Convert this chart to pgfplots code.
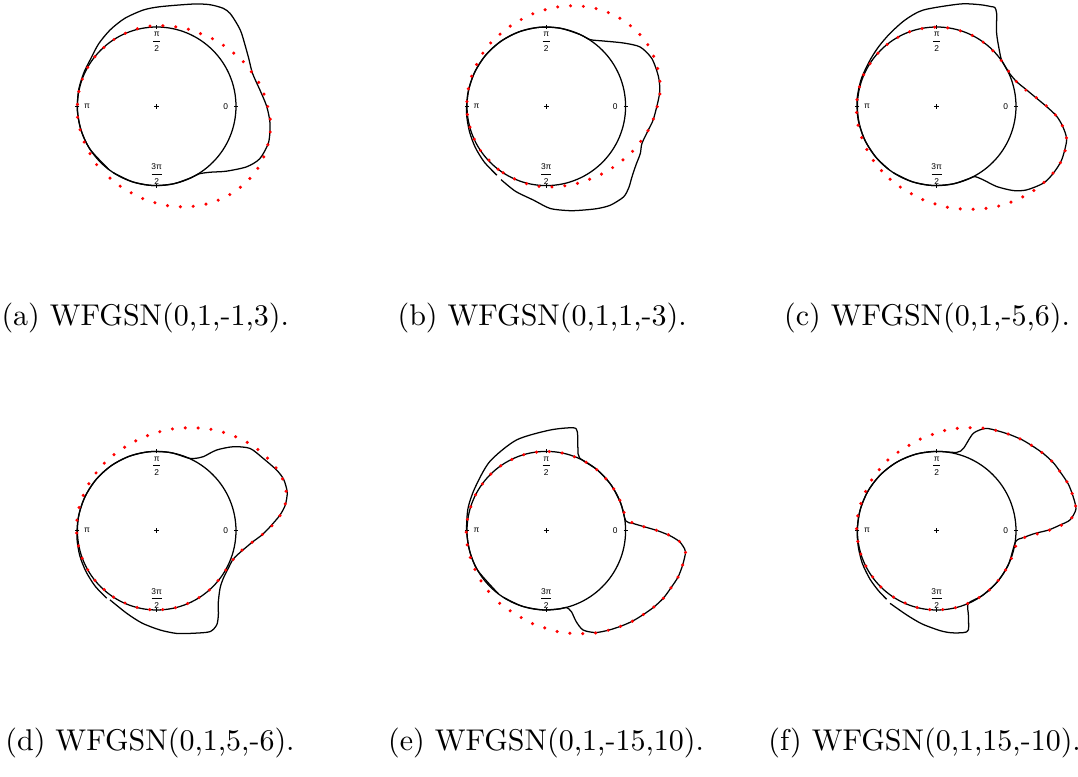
\documentclass[border=0pt]{standalone}
\usepackage{fontspec}
\setsansfont{Liberation Sans}
\usepackage{pgfplots}
\pgfplotsset{compat=1.18}
\usepgfplotslibrary{polar}
\newcommand{\lab}{\fontsize{2.8}{3.4}\selectfont\sffamily}
\pgfplotsset{panel/.style={x=26.43pt,y=26.43pt,xmin=-1.9,xmax=1.9,ymin=-1.9,ymax=1.9,hide axis,clip=false,anchor=center},
 blk/.style={black,line width=0.42pt,smooth,tension=0.45,data cs=polar,no marks},
 dots/.style={red,line width=1.15pt,line cap=round,dash pattern=on 0pt off 4.3pt,smooth,tension=0.45,data cs=polar,no marks}}
\newcommand{\decor}{%
 \draw[line width=0.42pt] (axis cs:0,0) circle[radius=26.43pt];
 \draw[line width=0.3pt] (axis cs:0.975,0)--(axis cs:1.025,0) (axis cs:-0.975,0)--(axis cs:-1.025,0)
   (axis cs:0,0.975)--(axis cs:0,1.025) (axis cs:0,-0.975)--(axis cs:0,-1.025)
   (axis cs:-0.03,0)--(axis cs:0.03,0) (axis cs:0,-0.03)--(axis cs:0,0.03);
 \node[font=\lab,inner sep=0pt] at (axis cs:0.87,0) {0};
 \node[font=\lab,inner sep=0pt] at (axis cs:-0.88,0) {π};
 \node[font=\lab,inner sep=0pt,align=center] at (axis cs:0,0.815) {π\\[-1.0pt]\rule[0.8pt]{2.4pt}{0.22pt}\\[-1.0pt]2};
 \node[font=\lab,inner sep=0pt,align=center] at (axis cs:0,-0.855) {3π\\[-1.0pt]\rule[0.8pt]{3.4pt}{0.22pt}\\[-1.0pt]2};
}
\begin{document}
\begin{tikzpicture}
\useasboundingbox (0,0) rectangle (359.33pt,258.67pt);
% (a)
\begin{axis}[panel,at={(52.23pt,223.23pt)}]
\decor
\addplot[blk] coordinates {(237,1)(252,1)(267,1)(282,1)(296,1.0)(302,1.005)(309,1.07)(317,1.2)(326,1.366)(333,1.458)(342,1.483)(351.5,1.445)(360,1.387)(369,1.318)(379,1.278)(388.5,1.314)(400.7,1.412)(406,1.453)(411.7,1.493)(415.8,1.494)(422.3,1.447)(430.3,1.37)(448,1.257)(457.9,1.226)(470,1.18)(481.4,1.128)(493,1.075)(505.2,1.023)(515,1.012)(528,1.006)(543,1.002)(558,1)(573,1)(593,1)};
\addplot[dots] coordinates {(237,1.08)(246,1.11)(254,1.14)(262,1.18)(270,1.222)(277,1.265)(284,1.307)(290.5,1.345)(297,1.383)(303.6,1.418)(310,1.447)(316.3,1.47)(322.6,1.487)(329,1.497)(335,1.493)(341.2,1.483)(347.4,1.468)(354,1.44)(360,1.40)(366.7,1.36)(373.4,1.32)(380.3,1.27)(387.5,1.227)(394.9,1.18)(402.6,1.14)(410.6,1.105)(419,1.07)(427.6,1.05)(436.6,1.03)(445.5,1.02)(454.5,1.016)(463.7,1.008)(473,1.003)(485,1)(500,1)(515,1)(530,1)(545,1.005)(556,1.01)(565.6,1.02)(574.7,1.03)(583.5,1.055)(592.3,1.07)};
\end{axis}
% (b)
\begin{axis}[panel,at={(182.1pt,223.23pt)}]
\decor
\addplot[blk] coordinates {(238.3,1.087)(250,1.14)(262.3,1.195)(272.2,1.29)(282,1.345)(288.1,1.38)(296.3,1.44)(302.9,1.486)(310.5,1.502)(315.5,1.46)(320.5,1.40)(327,1.35)(333.3,1.327)(338.7,1.294)(346.8,1.32)(353.4,1.362)(366.4,1.437)(374.6,1.463)(384.3,1.461)(392.3,1.40)(399.3,1.26)(408.7,1.096)(416.6,1.007)(425,1)(440,1)(455,1)(470,1)(485,1)(500,1)(515,1)(530,1.003)(545,1.01)(558,1.02)(570,1.035)(582,1.052)(594.4,1.07)};
\addplot[dots] coordinates {(237,1)(247,1)(256.3,1.008)(265.5,1.016)(274.5,1.02)(283.4,1.03)(292.4,1.05)(300.9,1.07)(309.4,1.105)(317.4,1.14)(325.1,1.18)(332.5,1.227)(339.7,1.27)(346.6,1.32)(353.3,1.36)(360,1.40)(366,1.44)(372.6,1.468)(378.8,1.483)(385,1.493)(391,1.497)(397.4,1.487)(403.7,1.47)(410,1.447)(416.4,1.418)(423,1.383)(429.5,1.345)(436,1.307)(443,1.265)(450,1.222)(458,1.18)(466,1.14)(474,1.11)(483,1.08)(487.7,1.07)(496.5,1.055)(505.3,1.03)(514.4,1.02)(524,1.01)(533,1.006)(545,1.002)(560,1)(575,1)(593,1)};
\end{axis}
% (c)
\begin{axis}[panel,at={(312.23pt,223.23pt)}]
\decor
\addplot[blk] coordinates {(237,1)(252,1)(267,1)(282,1)(295,1.0)(298.6,1.01)(302.4,1.1)(306.8,1.264)(312.3,1.437)(317.1,1.549)(324.2,1.658)(330.1,1.696)(336.8,1.715)(345.5,1.693)(351,1.608)(355.4,1.515)(359.8,1.387)(364.6,1.264)(370.3,1.153)(377.1,1.055)(385.8,1.003)(395.5,1.006)(402,1.062)(410.6,1.191)(417.2,1.395)(419.5,1.445)(421.1,1.435)(426.9,1.393)(437.2,1.323)(457.9,1.226)(470,1.16)(482.6,1.092)(494,1.05)(505.2,1.023)(520,1.012)(535,1.008)(550,1.005)(565,1.002)(580,1)(593,1)};
\addplot[dots] coordinates {(237.4,1.092)(245.6,1.117)(253.6,1.147)(261.5,1.19)(269,1.231)(276,1.28)(282.8,1.327)(289.3,1.375)(295.4,1.428)(301.5,1.479)(307.6,1.528)(313.3,1.575)(318.8,1.62)(324.3,1.656)(329.7,1.689)(335.1,1.714)(340.5,1.716)(346,1.689)(351,1.608)(355.4,1.513)(359.8,1.395)(364.3,1.277)(369.6,1.155)(376.6,1.057)(385.1,1.011)(394.2,1.0)(410,1)(425,1)(440,1)(455,1)(470,1)(485,1)(500,1)(515,1.003)(530,1.008)(542,1.012)(551.6,1.018)(560.7,1.024)(569.5,1.033)(578.7,1.049)(587.2,1.064)(593,1.08)};
\end{axis}
% (d)
\begin{axis}[panel,at={(52.23pt,81.77pt)}]
\decor
\addplot[blk] coordinates {(236,1.053)(250,1.108)(261,1.18)(271.9,1.253)(281,1.32)(289.7,1.374)(297.8,1.44)(302.5,1.409)(306.2,1.317)(310.3,1.2)(317.7,1.08)(324.4,1.033)(332.3,1.02)(339.7,1.03)(346.5,1.102)(353.3,1.218)(358,1.337)(362.8,1.451)(367.2,1.567)(371.3,1.654)(376.4,1.716)(382,1.727)(386.8,1.695)(394.1,1.624)(401.4,1.569)(407.6,1.434)(413.4,1.267)(417.8,1.103)(422.1,1.032)(426,1.0)(440,1)(455,1)(470,1)(485,1)(500,1)(515,1)(530,1.003)(545,1.01)(558,1.02)(570,1.03)(582,1.045)(593.5,1.06)};
\addplot[dots] coordinates {(237,1)(252,1)(267,1)(282,1)(297,1)(312,1)(325.8,1.0)(334.9,1.011)(343.4,1.057)(350.4,1.155)(355.7,1.277)(360.2,1.395)(364.6,1.513)(369,1.608)(374,1.689)(379.5,1.716)(384.9,1.714)(390.3,1.689)(395.7,1.656)(401.2,1.62)(406.7,1.575)(412.4,1.528)(418.5,1.479)(424.6,1.428)(430.7,1.375)(437.2,1.327)(444,1.28)(451,1.231)(458.5,1.19)(466.4,1.147)(474.4,1.117)(482.6,1.092)(487,1.08)(492.8,1.064)(501.3,1.049)(510.5,1.033)(519.3,1.024)(528.4,1.018)(538,1.012)(548,1.008)(563,1.003)(578,1)(593,1)};
\end{axis}
% (e)
\begin{axis}[panel,at={(182.1pt,81.77pt)}]
\decor
\addplot[blk] coordinates {(237,1)(252,1)(267,1)(280,1)(284.6,1.0)(287.2,1.068)(288.2,1.208)(290.3,1.335)(295.7,1.426)(301.9,1.479)(307.8,1.527)(313.5,1.575)(319.1,1.617)(324.5,1.663)(330,1.704)(335.3,1.729)(340.5,1.761)(345.7,1.773)(351.2,1.777)(353.6,1.734)(355.5,1.677)(357.7,1.56)(360,1.403)(362.1,1.249)(364.8,1.097)(367,1.01)(380,1)(395,1)(410,1)(425.5,1.01)(429,1.112)(432.6,1.308)(435.5,1.341)(448.1,1.269)(468.3,1.204)(489.4,1.126)(509.4,1.049)(524.1,1.027)(540,1.005)(555,1)(570,1)(593,1)};
\addplot[dots] coordinates {(237.3,1.089)(245.9,1.11)(253.5,1.139)(261.6,1.185)(269.4,1.227)(276.2,1.28)(283,1.328)(289.6,1.378)(295.7,1.432)(301.9,1.479)(307.8,1.527)(313.5,1.575)(319.1,1.617)(324.5,1.663)(330,1.704)(335.3,1.729)(340.5,1.761)(345.7,1.773)(351.2,1.777)(355,1.7)(357.7,1.564)(360,1.403)(362.1,1.249)(364.8,1.097)(371.2,1.015)(380.6,1.005)(392,1)(407,1)(422,1)(437,1)(452,1)(467,1)(482,1)(497,1)(512,1)(527,1.003)(537.9,1.009)(546.7,1.013)(555.9,1.015)(565.1,1.021)(574.4,1.034)(582.9,1.05)(591.4,1.07)};
\end{axis}
% (f)
\begin{axis}[panel,at={(312.23pt,81.77pt)}]
\decor
\addplot[blk] coordinates {(237.3,1.089)(250.4,1.128)(261,1.19)(271.9,1.261)(278,1.3)(284.7,1.329)(287.7,1.314)(290.6,1.136)(293.5,1.0)(305,1)(320,1)(335,1)(352,1.005)(355.4,1.096)(358.4,1.24)(360.3,1.408)(362.6,1.556)(364.6,1.686)(368.8,1.777)(374.3,1.773)(379.5,1.761)(384.7,1.729)(390,1.704)(395.5,1.663)(400.9,1.617)(406.5,1.575)(412.2,1.527)(418.1,1.479)(424.4,1.43)(429.4,1.311)(432,1.091)(435.7,1.019)(450,1)(465,1)(480,1)(495,1)(510,1)(525,1)(540,1.003)(552,1.01)(564,1.025)(576,1.04)(586,1.055)(593.9,1.071)};
\addplot[dots] coordinates {(237,1)(252,1)(267,1)(282,1)(297,1)(312,1)(327,1)(339.4,1.005)(348.8,1.015)(355.2,1.097)(357.9,1.249)(360,1.403)(362.3,1.564)(365,1.7)(368.8,1.777)(374.3,1.773)(379.5,1.761)(384.7,1.729)(390,1.704)(395.5,1.663)(400.9,1.617)(406.5,1.575)(412.2,1.527)(418.1,1.479)(424.3,1.432)(430.4,1.378)(437,1.328)(443.8,1.28)(450.6,1.227)(458.4,1.185)(466.5,1.139)(474.1,1.11)(482.7,1.089)(488.6,1.07)(497.1,1.05)(505.6,1.034)(514.9,1.021)(524.1,1.015)(533.3,1.013)(542.1,1.009)(555,1.003)(570,1)(585,1)(593,1)};
\end{axis}
% captions
\node[anchor=base] at (48.4pt,150.1pt) {(a) WFGSN(0,1,-1,3).};
\node[anchor=base] at (180.7pt,150.1pt) {(b) WFGSN(0,1,1,-3).};
\node[anchor=base] at (309pt,150.1pt) {(c) WFGSN(0,1,-5,6).};
\node[anchor=base] at (50pt,8.43pt) {(d) WFGSN(0,1,5,-6).};
\node[anchor=base] at (182pt,8.43pt) {(e) WFGSN(0,1,-15,10).};
\node[anchor=base] at (308.2pt,8.43pt) {(f) WFGSN(0,1,15,-10).};
\end{tikzpicture}
\end{document}
